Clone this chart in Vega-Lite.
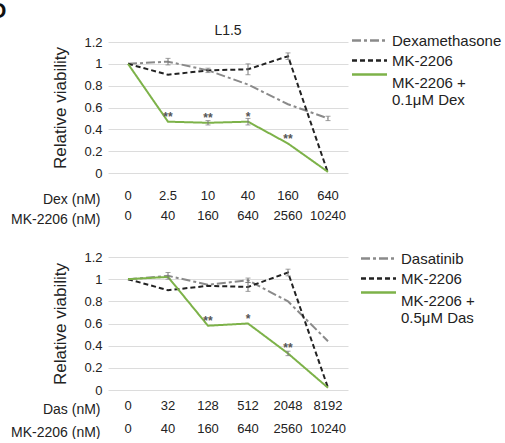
{
  "$schema": "https://vega.github.io/schema/vega-lite/v6.json",
  "padding": {"left": -10, "top": 0, "right": 0, "bottom": 0},
  "background": "white",
  "title": {"text": "D", "anchor": "start", "frame": "bounds", "fontSize": 22, "fontWeight": "bold", "color": "#111", "dx": -20, "offset": 1},
  "config": {
    "font": "Liberation Sans",
    "view": {"stroke": null},
    "axis": {"labelFont": "Liberation Sans", "titleFont": "Liberation Sans", "labelColor": "#222", "titleColor": "#222", "titleFontWeight": "normal"},
    "legend": {"labelFont": "Liberation Sans", "labelFontSize": 15, "labelColor": "#222", "symbolType": "M-1.75,0H1.75", "symbolSize": 400, "symbolStrokeWidth": 2.5, "rowPadding": 0, "labelOffset": 11, "labelLimit": 300}
  },
  "datasets": {
    "top": [
      {"series": "Dexamethasone", "x": "0|0", "v": 1.0},
      {"series": "Dexamethasone", "x": "2.5|40", "v": 1.02, "lo": 0.99, "hi": 1.05},
      {"series": "Dexamethasone", "x": "10|160", "v": 0.94, "lo": 0.92, "hi": 0.96},
      {"series": "Dexamethasone", "x": "40|640", "v": 0.81},
      {"series": "Dexamethasone", "x": "160|2560", "v": 0.63},
      {"series": "Dexamethasone", "x": "640|10240", "v": 0.5, "lo": 0.48, "hi": 0.52},
      {"series": "MK-2206", "x": "0|0", "v": 1.0},
      {"series": "MK-2206", "x": "2.5|40", "v": 0.9},
      {"series": "MK-2206", "x": "10|160", "v": 0.94},
      {"series": "MK-2206", "x": "40|640", "v": 0.95, "lo": 0.9, "hi": 1.0},
      {"series": "MK-2206", "x": "160|2560", "v": 1.07, "lo": 1.04, "hi": 1.1},
      {"series": "MK-2206", "x": "640|10240", "v": 0.0},
      {"series": "MK-2206 +|0.1μM Dex", "x": "0|0", "v": 1.0},
      {"series": "MK-2206 +|0.1μM Dex", "x": "2.5|40", "v": 0.47, "sig": "**"},
      {"series": "MK-2206 +|0.1μM Dex", "x": "10|160", "v": 0.46, "lo": 0.44, "hi": 0.48, "sig": "**"},
      {"series": "MK-2206 +|0.1μM Dex", "x": "40|640", "v": 0.47, "lo": 0.44, "hi": 0.5, "sig": "*"},
      {"series": "MK-2206 +|0.1μM Dex", "x": "160|2560", "v": 0.27, "sig": "**"},
      {"series": "MK-2206 +|0.1μM Dex", "x": "640|10240", "v": 0.01}
    ],
    "bottom": [
      {"series": "Dasatinib", "x": "0|0", "v": 1.0},
      {"series": "Dasatinib", "x": "32|40", "v": 1.03, "lo": 1.0, "hi": 1.06},
      {"series": "Dasatinib", "x": "128|160", "v": 0.95},
      {"series": "Dasatinib", "x": "512|640", "v": 0.99, "lo": 0.97, "hi": 1.01},
      {"series": "Dasatinib", "x": "2048|2560", "v": 0.8},
      {"series": "Dasatinib", "x": "8192|10240", "v": 0.44},
      {"series": "MK-2206", "x": "0|0", "v": 1.0},
      {"series": "MK-2206", "x": "32|40", "v": 0.9},
      {"series": "MK-2206", "x": "128|160", "v": 0.94},
      {"series": "MK-2206", "x": "512|640", "v": 0.93, "lo": 0.89, "hi": 0.97},
      {"series": "MK-2206", "x": "2048|2560", "v": 1.06, "lo": 1.03, "hi": 1.09},
      {"series": "MK-2206", "x": "8192|10240", "v": 0.02},
      {"series": "MK-2206 +|0.5μM Das", "x": "0|0", "v": 1.0},
      {"series": "MK-2206 +|0.5μM Das", "x": "32|40", "v": 1.02},
      {"series": "MK-2206 +|0.5μM Das", "x": "128|160", "v": 0.58, "sig": "**"},
      {"series": "MK-2206 +|0.5μM Das", "x": "512|640", "v": 0.6, "sig": "*"},
      {"series": "MK-2206 +|0.5μM Das", "x": "2048|2560", "v": 0.33, "lo": 0.31, "hi": 0.35, "sig": "**"},
      {"series": "MK-2206 +|0.5μM Das", "x": "8192|10240", "v": 0.02}
    ]
  },
  "spacing": 21,
  "resolve": {"scale": {"color": "independent", "strokeDash": "independent", "x": "independent"}, "legend": {"color": "independent", "strokeDash": "independent"}},
  "vconcat": [
    {
      "width": 240, "height": 131,
      "title": {"text": "L1.5", "fontSize": 14, "fontWeight": "normal", "color": "#222", "offset": -9},
      "data": {"name": "top"},
      "encoding": {
        "x": {"field": "x", "type": "ordinal", "sort": null,
          "axis": {"labelAngle": 0, "labelExpr": "split(datum.value, '|')", "labelFontSize": 13, "labelLineHeight": 20, "labelPadding": 16, "ticks": false, "domain": false,
            "title": ["Dex (nM)", "MK-2206 (nM)"], "titleFontSize": 14, "titleLineHeight": 20, "titleAlign": "right", "titleAnchor": "start", "titleX": -8, "titleY": 19, "titleBaseline": "top"}},
        "y": {"field": "v", "type": "quantitative", "scale": {"domain": [0, 1.2]},
          "axis": {"values": [0, 0.2, 0.4, 0.6, 0.8, 1, 1.2], "format": "~g", "title": "Relative viability", "titleFontSize": 17, "labelFontSize": 13, "ticks": false, "domain": false, "labelPadding": 6, "titlePadding": 14, "gridColor": "#dcdcdc"}}
      },
      "layer": [
        {"mark": {"type": "line", "strokeWidth": 2},
          "encoding": {
            "color": {"field": "series", "type": "nominal", "scale": {"domain": ["Dexamethasone", "MK-2206", "MK-2206 +|0.1μM Dex"], "range": ["#8a8a8a", "#222222", "#7db249"]},
              "legend": {"title": null, "orient": "none", "legendX": 250, "legendY": -13, "labelExpr": "split(datum.label, '|')",
                "encode": {"symbols": {"update": {"shape": {"signal": "indexof(datum.value, '+') >= 0 ? 'M-1.75,-0.8H1.75' : 'M-1.75,0H1.75'"}}}}}},
            "strokeDash": {"field": "series", "type": "nominal", "scale": {"domain": ["Dexamethasone", "MK-2206", "MK-2206 +|0.1μM Dex"], "range": [[9, 3, 3, 3], [5, 3], [1, 0]]},
              "legend": {"title": null, "orient": "none", "legendX": 250, "legendY": -13, "labelExpr": "split(datum.label, '|')",
                "encode": {"symbols": {"update": {"shape": {"signal": "indexof(datum.value, '+') >= 0 ? 'M-1.75,-0.8H1.75' : 'M-1.75,0H1.75'"}}}}}}
          }},
        {"transform": [{"filter": "isValid(datum.lo)"}], "mark": {"type": "rule", "color": "#777", "strokeWidth": 1},
          "encoding": {"y": {"field": "lo", "type": "quantitative"}, "y2": {"field": "hi"}}},
        {"transform": [{"filter": "isValid(datum.lo)"}], "mark": {"type": "tick", "color": "#777", "size": 5, "thickness": 1},
          "encoding": {"y": {"field": "hi", "type": "quantitative"}}},
        {"transform": [{"filter": "isValid(datum.lo)"}], "mark": {"type": "tick", "color": "#777", "size": 5, "thickness": 1},
          "encoding": {"y": {"field": "lo", "type": "quantitative"}}},
        {"transform": [{"filter": "isValid(datum.sig)"}], "mark": {"type": "text", "dy": -5, "fontSize": 12, "color": "#555", "fontWeight": "bold"},
          "encoding": {"text": {"field": "sig"}}}
      ]
    },
    {
      "width": 240, "height": 133,
      "data": {"name": "bottom"},
      "encoding": {
        "x": {"field": "x", "type": "ordinal", "sort": null,
          "axis": {"labelAngle": 0, "labelExpr": "split(datum.value, '|')", "labelFontSize": 13, "labelLineHeight": 23, "labelPadding": 9, "ticks": false, "domain": false,
            "title": ["Das (nM)", "MK-2206 (nM)"], "titleFontSize": 14, "titleLineHeight": 23, "titleAlign": "right", "titleAnchor": "start", "titleX": -8, "titleY": 12, "titleBaseline": "top"}},
        "y": {"field": "v", "type": "quantitative", "scale": {"domain": [0, 1.2]},
          "axis": {"values": [0, 0.2, 0.4, 0.6, 0.8, 1, 1.2], "format": "~g", "title": "Relative viability", "titleFontSize": 17, "labelFontSize": 13, "ticks": false, "domain": false, "labelPadding": 6, "titlePadding": 14, "gridColor": "#dcdcdc"}}
      },
      "layer": [
        {"mark": {"type": "line", "strokeWidth": 2},
          "encoding": {
            "color": {"field": "series", "type": "nominal", "scale": {"domain": ["Dasatinib", "MK-2206", "MK-2206 +|0.5μM Das"], "range": ["#8a8a8a", "#222222", "#7db249"]},
              "legend": {"title": null, "orient": "none", "legendX": 259, "legendY": -10, "labelExpr": "split(datum.label, '|')",
                "encode": {"symbols": {"update": {"shape": {"signal": "indexof(datum.value, '+') >= 0 ? 'M-1.75,-0.8H1.75' : 'M-1.75,0H1.75'"}}}}}},
            "strokeDash": {"field": "series", "type": "nominal", "scale": {"domain": ["Dasatinib", "MK-2206", "MK-2206 +|0.5μM Das"], "range": [[9, 3, 3, 3], [5, 3], [1, 0]]},
              "legend": {"title": null, "orient": "none", "legendX": 259, "legendY": -10, "labelExpr": "split(datum.label, '|')",
                "encode": {"symbols": {"update": {"shape": {"signal": "indexof(datum.value, '+') >= 0 ? 'M-1.75,-0.8H1.75' : 'M-1.75,0H1.75'"}}}}}}
          }},
        {"transform": [{"filter": "isValid(datum.lo)"}], "mark": {"type": "rule", "color": "#777", "strokeWidth": 1},
          "encoding": {"y": {"field": "lo", "type": "quantitative"}, "y2": {"field": "hi"}}},
        {"transform": [{"filter": "isValid(datum.lo)"}], "mark": {"type": "tick", "color": "#777", "size": 5, "thickness": 1},
          "encoding": {"y": {"field": "hi", "type": "quantitative"}}},
        {"transform": [{"filter": "isValid(datum.lo)"}], "mark": {"type": "tick", "color": "#777", "size": 5, "thickness": 1},
          "encoding": {"y": {"field": "lo", "type": "quantitative"}}},
        {"transform": [{"filter": "isValid(datum.sig)"}], "mark": {"type": "text", "dy": -5, "fontSize": 12, "color": "#555", "fontWeight": "bold"},
          "encoding": {"text": {"field": "sig"}}}
      ]
    }
  ]
}
